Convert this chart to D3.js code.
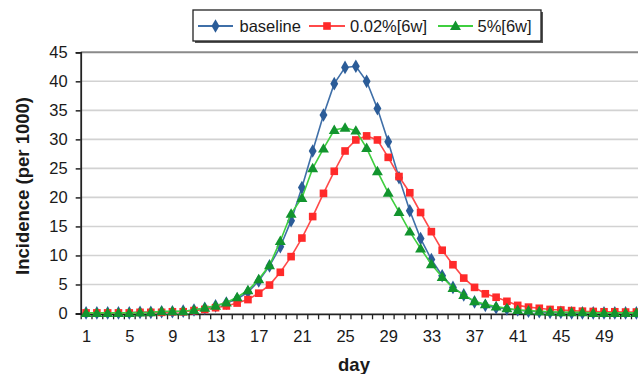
<!DOCTYPE html>
<html>
<head>
<meta charset="utf-8">
<script src="https://cdn.jsdelivr.net/npm/d3@7"></script>
<style>
  html, body { margin: 0; padding: 0; background: #fff; }
  svg { display: block; font-family: "Liberation Sans", Arial, sans-serif; }
</style>
</head>
<body>
<svg id="chart" width="638" height="374"></svg>
<script>
// Daily incidence per 1000 for the three scenarios
const days = d3.range(1, 53);
const baseline = [
  0.1, 0.1, 0.1, 0.1, 0.1, 0.2, 0.2, 0.3, 0.3, 0.4,
  0.6, 0.9, 1.3, 1.8, 2.5, 3.7, 5.6, 8.2, 11.5, 16.0,
  21.7, 28.0, 34.2, 39.6, 42.4, 42.6, 40.0, 35.3, 29.6, 23.4,
  17.7, 12.9, 9.3, 6.5, 4.5, 3.2, 2.0, 1.4, 1.0, 0.8,
  0.6, 0.4, 0.3, 0.2, 0.2, 0.1, 0.1, 0.1, 0.1, 0.1,
  0.1, 0.1
];
const pct002 = [
  0.1, 0.1, 0.1, 0.1, 0.1, 0.2, 0.2, 0.2, 0.3, 0.3,
  0.5, 0.7, 1.0, 1.3, 1.8, 2.4, 3.5, 4.9, 7.1, 9.8,
  13.0, 16.7, 20.7, 24.5, 28.0, 29.9, 30.6, 29.9, 26.9, 23.6,
  20.8, 17.4, 14.1, 10.9, 8.4, 6.1, 4.5, 3.4, 2.8, 2.1,
  1.4, 1.1, 0.9, 0.7, 0.6, 0.5, 0.4, 0.35, 0.3, 0.3,
  0.25, 0.25
];
const pct5 = [
  0.1, 0.1, 0.1, 0.1, 0.1, 0.15, 0.2, 0.4, 0.4, 0.4,
  0.6, 1.0, 1.35, 1.9, 2.8, 4.0, 5.9, 8.3, 12.5, 17.2,
  19.9, 25.0, 28.4, 31.6, 32.0, 31.5, 28.5, 24.5, 20.8, 17.5,
  14.1, 11.2, 8.5, 6.3, 4.4, 3.2, 2.1, 1.6, 1.2, 0.9,
  0.6, 0.5, 0.4, 0.3, 0.2, 0.2, 0.2, 0.1, 0.1, 0.1,
  0.1, 0.1
];
const seriesNames = ["baseline", "0.02%[6w]", "5%[6w]"];
const yTicks = [0, 5, 10, 15, 20, 25, 30, 35, 40, 45];
const xLabels = [1, 5, 9, 13, 17, 21, 25, 29, 33, 37, 41, 45, 49];

const svg = d3.select("#chart");

const left = 80.7, catW = 10.79;
const right = left + days.length * catW;
const y0 = 313.5, y45 = 52.3;

// Categories sit between tick marks: day d is centred in [d-0.5, d+0.5]
const x = d3.scaleLinear().domain([0.5, days.length + 0.5]).range([left, right]);
const y = d3.scaleLinear().domain([0, 45]).range([y0, y45]);

// Horizontal gridlines
svg.append("g")
  .selectAll("line")
  .data(yTicks.filter(t => t > 0 && t < 45))
  .join("line")
  .attr("x1", left).attr("x2", right)
  .attr("y1", d => y(d)).attr("y2", d => y(d))
  .attr("stroke", "#d2d2d2").attr("stroke-width", 1.6);

// Top edge of the plot area
svg.append("line")
  .attr("x1", left).attr("x2", right)
  .attr("y1", y(45)).attr("y2", y(45))
  .attr("stroke", "#8a8a8a").attr("stroke-width", 2);

// Y axis
const yAxis = svg.append("g")
  .attr("transform", `translate(${left},0)`)
  .call(d3.axisLeft(y).tickValues(yTicks).tickSize(5).tickPadding(8).tickFormat(d3.format("d")));
yAxis.select(".domain").attr("stroke", "#222").attr("stroke-width", 1.8);
yAxis.selectAll(".tick line").attr("stroke", "#222").attr("stroke-width", 1.5);
yAxis.selectAll(".tick text")
  .attr("font-size", 16.5).attr("fill", "#1a1a1a")
  .attr("font-family", "'Liberation Sans', Arial, sans-serif");

// X axis: tick marks at category boundaries
const xTickAxis = svg.append("g")
  .attr("transform", `translate(0,${y0 + 0.8})`)
  .call(d3.axisBottom(x).tickValues(d3.range(0.5, days.length + 1, 1)).tickSize(5).tickFormat(""));
xTickAxis.select(".domain").attr("stroke", "#222").attr("stroke-width", 1.8).attr("d", `M${left},0H${right}`);
xTickAxis.selectAll(".tick line").attr("stroke", "#222").attr("stroke-width", 1.3);

// X axis: labels every fourth day
const xLabelAxis = svg.append("g")
  .attr("transform", `translate(0,${y0 + 0.8})`)
  .call(d3.axisBottom(x).tickValues(xLabels).tickSize(0).tickPadding(16).tickFormat(d3.format("d")));
xLabelAxis.select(".domain").remove();
xLabelAxis.selectAll(".tick text")
  .attr("font-size", 16.5).attr("fill", "#1a1a1a")
  .attr("font-family", "'Liberation Sans', Arial, sans-serif");

// Axis titles
svg.append("text")
  .attr("transform", "translate(23,186) rotate(-90)")
  .attr("text-anchor", "middle").attr("dy", "0.35em")
  .attr("font-size", 18.5).attr("font-weight", "bold").attr("fill", "#1a1a1a")
  .text("Incidence (per 1000)");
svg.append("text")
  .attr("x", 354).attr("y", 371)
  .attr("text-anchor", "middle")
  .attr("font-size", 18.5).attr("font-weight", "bold").attr("fill", "#1a1a1a")
  .text("day");

// Series styling
const styles = [
  { values: baseline, line: "#3f6fa8", marker: "#2b5c98", shape: d3.symbolDiamond, size: 54 },
  { values: pct002, line: "#ff4a4a", marker: "#ff2a2a", shape: d3.symbolSquare, size: 58 },
  { values: pct5, line: "#3fcf3f", marker: "#12942e", shape: d3.symbolTriangle, size: 52 }
];

const plot = svg.append("g");
const lineGen = d3.line().x((d, i) => x(days[i])).y(d => y(d));

styles.forEach(s => {
  const g = plot.append("g");
  g.append("path")
    .attr("d", lineGen(s.values))
    .attr("fill", "none").attr("stroke", s.line).attr("stroke-width", 1.6);
  g.selectAll("path.m")
    .data(s.values)
    .join("path")
    .attr("class", "m")
    .attr("transform", (d, i) => `translate(${x(days[i])},${y(d) + (s.shape === d3.symbolTriangle ? 0.8 : 0)})`)
    .attr("d", d3.symbol().type(s.shape).size(s.size))
    .attr("fill", s.marker);
});

// Legend box with shadow
const lg = svg.append("g");
lg.append("rect").attr("x", 195).attr("y", 12).attr("width", 348).attr("height", 31).attr("fill", "#555");
lg.append("rect").attr("x", 193).attr("y", 10).attr("width", 348).attr("height", 31)
  .attr("fill", "#fff").attr("stroke", "#222").attr("stroke-width", 1.3);

const legendItems = [
  { x1: 198, x2: 233, tx: 239.5 },
  { x1: 309, x2: 345, tx: 350 },
  { x1: 438, x2: 473, tx: 477.5 }
];
legendItems.forEach((it, i) => {
  const s = styles[i];
  const ly = 26;
  lg.append("line").attr("x1", it.x1).attr("x2", it.x2).attr("y1", ly).attr("y2", ly)
    .attr("stroke", s.line).attr("stroke-width", 1.8);
  lg.append("path")
    .attr("transform", `translate(${(it.x1 + it.x2) / 2},${ly + (s.shape === d3.symbolTriangle ? 0.8 : 0)})`)
    .attr("d", d3.symbol().type(s.shape).size(s.size))
    .attr("fill", s.marker);
  lg.append("text").attr("x", it.tx).attr("y", ly + 6)
    .attr("font-size", 16.5).attr("fill", "#1a1a1a")
    .text(seriesNames[i]);
});
</script>
</body>
</html>
